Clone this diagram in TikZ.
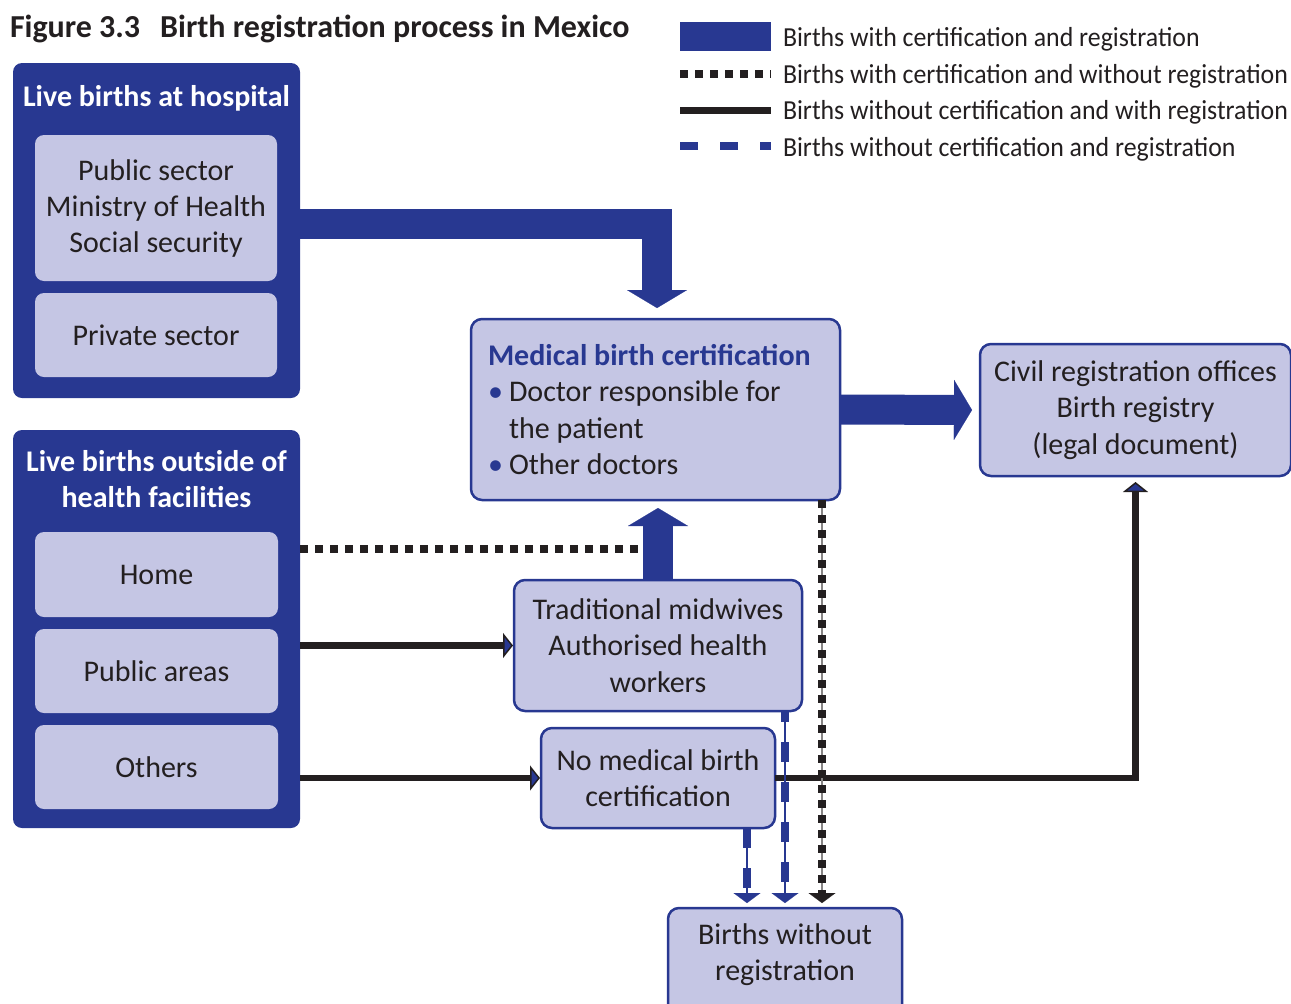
\documentclass[tikz,border=0pt]{standalone}
\usepackage{fontspec}
\setmainfont{Carlito}
\usepackage{graphicx}
\usetikzlibrary{arrows.meta,calc}
\definecolor{dblue}{RGB}{40,56,145}
\definecolor{lav}{RGB}{197,198,228}
\definecolor{ink}{RGB}{35,31,32}
\begin{document}
\begin{tikzpicture}[x=1pt,y=-1pt,
  every node/.style={inner sep=0pt,outer sep=0pt},
  container/.style={fill=dblue,rounded corners=9pt,anchor=north west},
  ctitle/.style={text=white,font=\fontsize{30}{36}\selectfont\bfseries,align=center},
  inbox/.style={fill=lav,rounded corners=9pt,anchor=north west,align=center,text=ink,font=\fontsize{30}{36}\selectfont},
  flowbox/.style={fill=lav,draw=dblue,line width=2.5pt,rounded corners=11pt,anchor=north west,align=center,text=ink,font=\fontsize{30}{36.5}\selectfont},
  boxtext/.style={text=ink,font=\fontsize{30}{36.5}\selectfont,align=center},
  legtext/.style={anchor=base west,text=ink,font=\fontsize{27.5}{30}\selectfont},
  bigarrow/.style={draw=dblue,line width=30pt,line join=miter,-{Triangle[width=60pt,length=18pt,line width=0.1pt]}},
  blackflow/.style={draw=ink,line width=6.5pt,line join=miter,-{Triangle[width=25pt,length=10pt,line width=1.5pt,fill=dblue]}},
  dotflow/.style={draw=ink,line width=8pt,dash pattern=on 8pt off 7pt},
  guideline/.style={line width=1.5pt},
  blueguide/.style={guideline,draw=dblue,-{Triangle[width=27pt,length=10pt,line width=0.1pt]}},
  grayguide/.style={guideline,draw=ink!55,-{Triangle[width=27pt,length=10pt,line width=0.1pt,color=ink]}},
  bluedash/.style={draw=dblue,line width=8pt,dash pattern=on 20pt off 20pt,shorten >=10pt},
]
\useasboundingbox (0,0) rectangle (1291,1004);

% title
\node[anchor=base west,font=\fontsize{32}{38}\selectfont\bfseries,text=ink] (title) at (10,37)
  {Figure 3.3\hspace{20pt}Birth registration process in Mexico};

% legend
\fill[dblue] (680,22) rectangle (771,51);
\draw[dotflow] (680,74) -- (771,74);
\draw[ink,line width=7pt] (680,110) -- (771,110);
\draw[dblue,line width=8pt,dash pattern=on 18pt off 22pt] (680,146) -- (771,146);
\node[legtext] (l1) at (783,46) {\scalebox{0.94}[1]{Births with certification and registration}};
\node[legtext] (l2) at (783,83) {\scalebox{0.94}[1]{Births with certification and without registration}};
\node[legtext] (l3) at (783,119) {\scalebox{0.94}[1]{Births without certification and with registration}};
\node[legtext] (l4) at (783,156) {\scalebox{0.94}[1]{Births without certification and registration}};

% containers
\node[container,minimum width=287pt,minimum height=335pt] (hosp) at (13,63) {};
\node[ctitle] (hospT) at (156.5,98) {Live births at hospital};
\node[inbox,minimum width=242pt,minimum height=146pt] (pub) at (35,135) {Public sector\\Ministry of Health\\Social security};
\node[inbox,minimum width=242pt,minimum height=84pt] (priv) at (35,293) {Private sector};

\node[container,minimum width=287pt,minimum height=398pt] (outc) at (13,430) {};
\node[ctitle] (outT) at (156.5,479) {Live births outside of\\health facilities};
\node[inbox,minimum width=243pt,minimum height=85pt] (home) at (35,532) {Home};
\node[inbox,minimum width=243pt,minimum height=84pt] (parea) at (35,629) {Public areas};
\node[inbox,minimum width=243pt,minimum height=84pt] (oth) at (35,725) {Others};

% flow boxes
\node[flowbox,minimum width=369pt,minimum height=181pt,text width=335pt,inner xsep=17pt,align=flush left] (med) at (471,319)
  {{\color{dblue}\bfseries Medical birth certification}\\
   \makebox[21pt][l]{\color{dblue}•}Doctor responsible for\\
   \hspace*{21pt}the patient\\
   \makebox[21pt][l]{\color{dblue}•}Other doctors};
\node[flowbox,minimum width=311pt,minimum height=132pt] (civ) at (980,344)
  {Civil registration offices\\Birth registry\\(legal document)};
\node[flowbox,minimum width=288pt,minimum height=131pt] (mid) at (514,580)
  {Traditional midwives\\Authorised health\\workers};
\node[flowbox,minimum width=234pt,minimum height=100pt] (nomed) at (541,728)
  {No medical birth\\certification};
\node[flowbox,minimum width=234pt,minimum height=120pt] (bw) at (668,908) {};
\node[boxtext] (bwT) at (785,954.5) {Births without\\registration};

% thick blue flows
\draw[bigarrow] (hosp.east |- 0,224) -| ([yshift=11pt]med.north -| 657,0);
\draw[bigarrow] (med.east) -- ([xshift=-8pt]civ.west);

% dotted from outside (certification without registration)
\draw[dotflow] (outc.east |- 0,549) -- ([xshift=-15pt]mid.north |- 0,549);
\draw[bigarrow] (mid.north) -- ([yshift=-8pt]mid.north |- med.south);

% black flows (no certification, with registration)
\draw[blackflow] (outc.east |- mid.west) -- ([xshift=-1pt]mid.west);
\draw[blackflow] (outc.east |- nomed.west) -- ([xshift=-1pt]nomed.west);
\draw[blackflow] (nomed.east) -| ([yshift=-6pt]civ.south);

% towards births without registration
\coordinate (tipA) at ($(bw.north -| 747,0)+(0,-5)$);
\coordinate (tipB) at ($(bw.north -| 785,0)+(0,-5)$);
\coordinate (tipC) at ($(bw.north -| 822,0)+(0,-5)$);
\draw[grayguide] (med.south -| 822,0) -- (tipC);
\draw[dotflow,shorten >=10pt] (med.south -| 822,0) -- (tipC);
\draw[blueguide] (mid.south -| 785,0) -- (tipB);
\draw[bluedash,dash phase=9pt] (mid.south -| 785,0) -- (tipB);
\draw[blueguide] (nomed.south -| 747,0) -- (tipA);
\draw[bluedash] (nomed.south -| 747,0) -- (tipA);
\end{tikzpicture}
\end{document}
